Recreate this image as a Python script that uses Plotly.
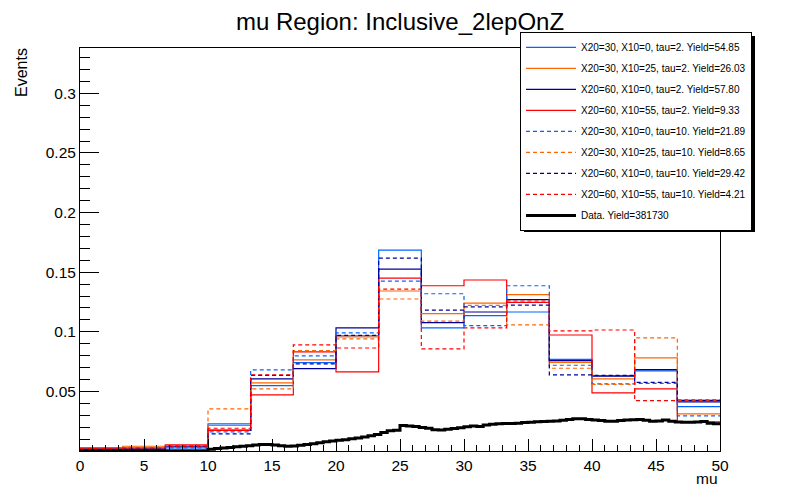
import numpy as np
import plotly.graph_objects as go

# ---------------- data ----------------
bin_edges = [0, 10/3, 20/3, 10, 40/3, 50/3, 20, 70/3, 80/3, 30, 100/3, 110/3, 40, 130/3, 140/3, 50]

names = [
    "X20=30, X10=0, tau=2. Yield=54.85",
    "X20=30, X10=25, tau=2. Yield=26.03",
    "X20=60, X10=0, tau=2. Yield=57.80",
    "X20=60, X10=55, tau=2. Yield=9.33",
    "X20=30, X10=0, tau=10. Yield=21.89",
    "X20=30, X10=25, tau=10. Yield=8.65",
    "X20=60, X10=0, tau=10. Yield=29.42",
    "X20=60, X10=55, tau=10. Yield=4.21",
]

s30_0_t2   = [0.0015, 0.0015, 0.0027, 0.0228, 0.0549, 0.0741, 0.0965, 0.1685, 0.1032, 0.1135, 0.1166, 0.0769, 0.0632, 0.0672, 0.0373]
s30_25_t2  = [0.0010, 0.0040, 0.0010, 0.0214, 0.0571, 0.0764, 0.0956, 0.1342, 0.1152, 0.1241, 0.1311, 0.0744, 0.0605, 0.0781, 0.0311]
s60_0_t2   = [0.0015, 0.0015, 0.0040, 0.0175, 0.0605, 0.0691, 0.1032, 0.1526, 0.1076, 0.1166, 0.1269, 0.0758, 0.0627, 0.0683, 0.0412]
s60_55_t2  = [0.0027, 0.0027, 0.0052, 0.0172, 0.0471, 0.0831, 0.0663, 0.1450, 0.1386, 0.1434, 0.1246, 0.0973, 0.0487, 0.0521, 0.0245]
s30_0_t10  = [0.0015, 0.0015, 0.0027, 0.0161, 0.0680, 0.0797, 0.0990, 0.1425, 0.1319, 0.1051, 0.1386, 0.0719, 0.0563, 0.0568, 0.0295]
s30_25_t10 = [0.0010, 0.0030, 0.0010, 0.0353, 0.0521, 0.0842, 0.0940, 0.1275, 0.1090, 0.1221, 0.1057, 0.0694, 0.0558, 0.0948, 0.0424]
s60_0_t10  = [0.0015, 0.0015, 0.0038, 0.0144, 0.0635, 0.0730, 0.0970, 0.1618, 0.1182, 0.1208, 0.1224, 0.0638, 0.0635, 0.0576, 0.0424]
s60_55_t10 = [0.0020, 0.0025, 0.0040, 0.0191, 0.0638, 0.0890, 0.0864, 0.1358, 0.0856, 0.1032, 0.1258, 0.1007, 0.1015, 0.0423, 0.0429]

signals = [s30_0_t2, s30_25_t2, s60_0_t2, s60_55_t2, s30_0_t10, s30_25_t10, s60_0_t10, s60_55_t10]
colors = ["#0066ff", "#ff6600", "#000099", "#ff0000", "#0066ff", "#ff6600", "#000099", "#ff0000"]
dashes = ["solid"] * 4 + ["4px,3px"] * 4

data_name = "Data. Yield=381730"
data_edges = [i * 0.5 for i in range(101)]
data_vals = [0.0] * 20 + [
    0.0015, 0.0020, 0.0025, 0.0030, 0.0035, 0.0040, 0.0045, 0.0050, 0.0055, 0.0055,
    0.0050, 0.0045, 0.0040, 0.0042, 0.0048, 0.0055, 0.0060, 0.0070, 0.0078, 0.0083,
    0.0090, 0.0095, 0.0103, 0.0110, 0.0118, 0.0128, 0.0138, 0.0155, 0.0170, 0.0175,
    0.0214, 0.0210, 0.0205, 0.0198, 0.0190, 0.0178, 0.0176, 0.0182, 0.0188, 0.0195,
    0.0203, 0.0210, 0.0205, 0.0218, 0.0225, 0.0229, 0.0230, 0.0230, 0.0232, 0.0238,
    0.0242, 0.0245, 0.0248, 0.0250, 0.0252, 0.0258, 0.0265, 0.0270, 0.0270, 0.0265,
    0.0260, 0.0255, 0.0250, 0.0250, 0.0255, 0.0260, 0.0262, 0.0265, 0.0258, 0.0250,
    0.0252, 0.0260, 0.0250, 0.0243, 0.0241, 0.0241, 0.0243, 0.0247, 0.0232, 0.0228,
]

x_tickvals = [0, 5, 10, 15, 20, 25, 30, 35, 40, 45, 50]
x_ticktext = ["0", "5", "10", "15", "20", "25", "30", "35", "40", "45", "50"]
y_tickvals = [0.05, 0.1, 0.15, 0.2, 0.25, 0.3]
y_ticktext = ["0.05", "0.1", "0.15", "0.2", "0.25", "0.3"]

title_text = "mu Region: Inclusive_2lepOnZ"
x_title = "mu"
y_title = "Events"

# ---------------- figure ----------------
FONT = "Liberation Sans, Arial, Helvetica, sans-serif"
fig = go.Figure()


def step_xy(edges, vals):
    return list(edges), list(vals) + [vals[-1]]


for i, (nm, vals) in enumerate(zip(names, signals)):
    xs, ys = step_xy(bin_edges, vals)
    fig.add_trace(go.Scatter(
        x=xs, y=ys, mode="lines", name=nm, line_shape="hv",
        line=dict(color=colors[i], width=1.2, dash=dashes[i]),
        legendgroup="g%d" % i,
    ))

xs, ys = step_xy(data_edges, data_vals)
fig.add_trace(go.Scatter(
    x=xs, y=ys, mode="lines", name=data_name, line_shape="hv",
    line=dict(color="black", width=3), legendgroup="gd",
))

fig.update_layout(
    width=800, height=500,
    margin=dict(l=72, r=88, t=40, b=57),
    paper_bgcolor="white", plot_bgcolor="white",
    font=dict(family=FONT, color="black", size=15.5),
    title=dict(text=title_text, xref="paper", x=0.5, xanchor="center",
               y=0.972, yanchor="middle",
               font=dict(size=24, family=FONT)),
    showlegend=True,
    legend=dict(x=0.6875, y=1.04, xanchor="left", yanchor="top",
                bgcolor="white", bordercolor="black", borderwidth=1,
                font=dict(size=10, family=FONT), tracegroupgap=2,
                itemwidth=50),
)

# legend drop shadow (ROOT style)
fig.add_shape(type="rect", xref="paper", yref="paper",
              x0=0.6938, x1=1.0547, y0=0.5434, y1=1.0298,
              fillcolor="black", line=dict(width=0), layer="above")

fig.update_xaxes(
    range=[0, 50], tickvals=x_tickvals, ticktext=x_ticktext,
    ticks="inside", ticklen=12, tickcolor="black", tickwidth=1,
    showline=True, linecolor="black", linewidth=1, mirror=True,
    showgrid=False, zeroline=False, tickfont=dict(size=15.5),
    minor=dict(dtick=1, ticks="inside", ticklen=6, tickcolor="black", showgrid=False),
)
fig.update_yaxes(
    range=[0, 0.338], tickvals=y_tickvals, ticktext=y_ticktext,
    ticks="inside", ticklen=19, tickcolor="black", tickwidth=1,
    showline=True, linecolor="black", linewidth=1, mirror=True,
    showgrid=False, zeroline=False, tickfont=dict(size=15.5),
    minor=dict(dtick=0.01, tick0=0, ticks="inside", ticklen=10, tickcolor="black", showgrid=False),
)

fig.add_annotation(text=y_title, xref="paper", yref="paper", x=-0.0906, y=0.938,
                   textangle=-90, showarrow=False, font=dict(size=16, family=FONT),
                   xanchor="center", yanchor="middle")
fig.add_annotation(text=x_title, xref="paper", yref="paper", x=1.0, y=-0.068,
                   showarrow=False, font=dict(size=15.5, family=FONT),
                   xanchor="right", yanchor="middle")

fig.write_html("out.html")
